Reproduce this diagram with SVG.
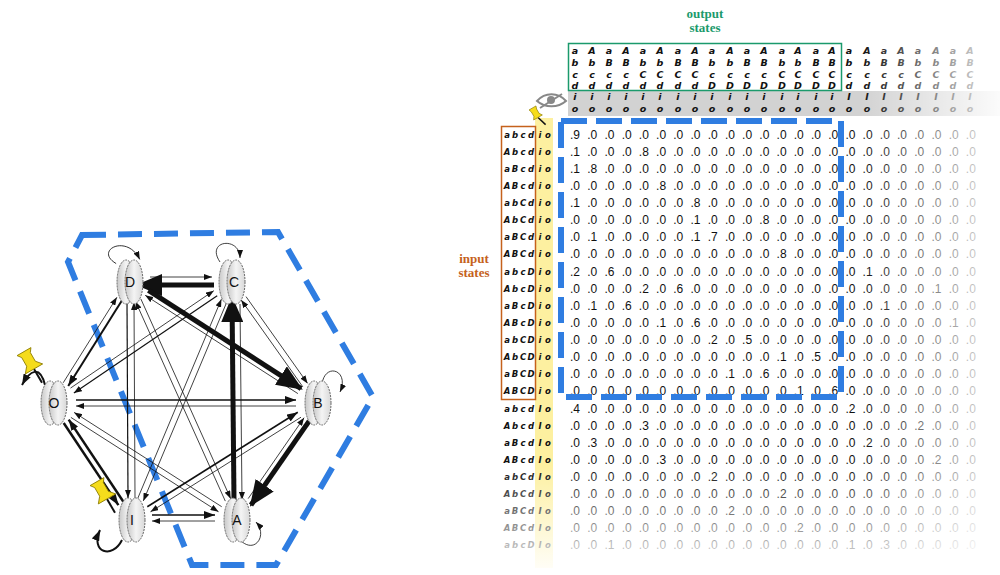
<svg xmlns="http://www.w3.org/2000/svg" width="1000" height="575" viewBox="0 0 1000 575">
<style>
.val{font-family:"Liberation Sans",Arial,sans-serif;font-size:12px;word-spacing:3.87px;fill:#111}
.hd{font-family:"DejaVu Sans",sans-serif;font-style:italic;font-weight:bold;font-size:9.5px;fill:#111;text-anchor:middle}
.rl{font-family:"DejaVu Sans",sans-serif;font-style:italic;font-weight:bold;font-size:8.5px;fill:#111;text-anchor:middle}
.lbl{font-family:"Liberation Serif",serif;font-weight:bold;font-size:13px;text-anchor:middle}
.e{fill:none;stroke:#111}
.t{stroke-width:0.8;marker-end:url(#mt)}
.m{stroke-width:2;marker-end:url(#mm)}
.k{stroke-width:5;marker-end:url(#mk)}
.blue{fill:none;stroke:#2f7de1;stroke-width:6}
.nd ellipse{fill:url(#ng);stroke:#666;stroke-width:1;stroke-dasharray:2 1}
.nl{font-family:"Liberation Sans",Arial,sans-serif;font-size:14px;text-anchor:middle;fill:#111}
</style>
<defs>
<marker id="mt" markerUnits="userSpaceOnUse" markerWidth="8" markerHeight="6" refX="8" refY="3" orient="auto"><path d="M0,0 L8,3 L0,6z" fill="#111"/></marker>
<marker id="mm" markerUnits="userSpaceOnUse" markerWidth="11" markerHeight="8" refX="11" refY="4" orient="auto"><path d="M0,0 L11,4 L0,8z" fill="#111"/></marker>
<marker id="mk" markerUnits="userSpaceOnUse" markerWidth="26" markerHeight="22" refX="24" refY="11" orient="auto"><path d="M0,0 L26,11 L0,22z" fill="#111"/></marker>
<linearGradient id="ng" x1="0" x2="1"><stop offset="0" stop-color="#c8c8c8"/><stop offset="0.5" stop-color="#f4f4f4"/><stop offset="1" stop-color="#d8d8d8"/></linearGradient>
<linearGradient id="fr" x1="0" x2="1"><stop offset="0" stop-color="#fff" stop-opacity="0"/><stop offset="1" stop-color="#fff" stop-opacity="0.92"/></linearGradient>
<linearGradient id="fb" x1="0" x2="0" y1="0" y2="1"><stop offset="0" stop-color="#fff" stop-opacity="0"/><stop offset="1" stop-color="#fff" stop-opacity="0.97"/></linearGradient>
</defs>
<rect width="1000" height="575" fill="#fff"/>

<!-- graph -->
<polygon class="blue" stroke-dasharray="24 12" points="82,235 278,232 373,397 276,565 192,565 68,262"/>
<g id="connectors">
<line class="e t" x1="150" y1="277" x2="212" y2="277"/>
<line class="e k" x1="214" y1="285" x2="138" y2="285"/>
<line class="e k" x1="148.4" y1="290.3" x2="301.1" y2="388.6"/>
<line class="e t" x1="297.9" y1="393.6" x2="145.2" y2="295.3"/>
<line class="e t" x1="140.9" y1="299" x2="230.7" y2="498.7"/>
<line class="e t" x1="225.3" y1="501.1" x2="135.5" y2="301.4"/>
<line class="e t" x1="127" y1="302" x2="128" y2="498" style="stroke-width:1.2"/>
<line class="e t" x1="135" y1="498" x2="134" y2="302"/>
<line class="e m" x1="121.9" y1="300.5" x2="68.2" y2="386"/>
<line class="e t" x1="63.2" y1="382.8" x2="116.9" y2="297.3"/>
<line class="e t" x1="246" y1="296.6" x2="307.6" y2="383.4"/>
<line class="e t" x1="302.8" y1="386.8" x2="241.2" y2="300"/>
<line class="e k" x1="234" y1="500" x2="232" y2="298"/>
<line class="e t" x1="240" y1="304" x2="242" y2="500"/>
<line class="e t" x1="227" y1="301.6" x2="143.3" y2="500.9"/>
<line class="e t" x1="137.7" y1="498.5" x2="221.4" y2="299.2"/>
<line class="e t" x1="217.2" y1="295.7" x2="73.9" y2="393.1" style="stroke-width:1.2"/>
<line class="e t" x1="70.5" y1="388.1" x2="213.8" y2="290.7"/>
<line class="e k" x1="309.1" y1="421.1" x2="251" y2="505"/>
<line class="e t" x1="248.2" y1="498.6" x2="304.1" y2="417.7"/>
<line class="e m" x1="147.3" y1="506.8" x2="297.8" y2="412.2" style="stroke-width:1.6"/>
<line class="e t" x1="301" y1="417.2" x2="150.5" y2="511.8"/>
<line class="e m" x1="76" y1="400" x2="296" y2="400" style="stroke-width:1.3"/>
<line class="e t" x1="296" y1="406" x2="76" y2="406"/>
<line class="e m" x1="152" y1="515" x2="215" y2="515" style="stroke-width:1.3"/>
<line class="e t" x1="215" y1="521" x2="152" y2="521"/>
<line class="e t" x1="221.7" y1="506.7" x2="74.1" y2="412.4"/>
<line class="e t" x1="70.9" y1="417.4" x2="218.5" y2="511.7"/>
<line class="e m" x1="123.4" y1="501.7" x2="68.7" y2="419.6" style="stroke-width:2.5"/>
<line class="e m" x1="63.7" y1="423" x2="118.4" y2="505.1" style="stroke-width:2.5"/>
<path class="e t" d="M116,262 C96,245 132,234 140,262" transform="rotate(-10 125 262)" style="marker-end:url(#mt)"/>
<path class="e t" d="M220,262 C205,240 240,236 240,258"/>
<path class="e t" d="M322,384 C325,362 350,370 340,392"/>
<path class="e t" d="M240,540 C255,555 268,535 256,522"/>
<path class="e m" d="M122,540 C112,560 90,552 100,530" style="stroke-width:2"/>
<path class="e m" d="M45,385 C40,365 30,370 22,385" style="stroke-width:2"/>
</g>
<g id="node-D" class="nd"><ellipse cx="126" cy="282" rx="9" ry="22"/><ellipse cx="134" cy="282" rx="9" ry="22"/><text class="nl" x="130" y="287">D</text></g>
<g id="node-C" class="nd"><ellipse cx="228" cy="282" rx="9" ry="22"/><ellipse cx="236" cy="282" rx="9" ry="22"/><text class="nl" x="234" y="287">C</text></g>
<g id="node-B" class="nd"><ellipse cx="314" cy="403" rx="9" ry="22"/><ellipse cx="322" cy="403" rx="9" ry="22"/><text class="nl" x="318" y="408">B</text></g>
<g id="node-A" class="nd"><ellipse cx="233" cy="520" rx="9" ry="22"/><ellipse cx="241" cy="520" rx="9" ry="22"/><text class="nl" x="237" y="525">A</text></g>
<g id="node-I" class="nd"><ellipse cx="128" cy="520" rx="9" ry="22"/><ellipse cx="136" cy="520" rx="9" ry="22"/><text class="nl" x="132" y="525">I</text></g>
<g id="node-O" class="nd"><ellipse cx="50" cy="403" rx="9" ry="22"/><ellipse cx="58" cy="403" rx="9" ry="22"/><text class="nl" x="54" y="408">O</text></g>
<g id="pin-O" transform="translate(30,362) rotate(-30)"><line x1="0" y1="8" x2="0" y2="24" stroke="#111" stroke-width="2"/><path d="M-8,-12 L8,-12 L5,-8 L5,2 L10,8 L-10,8 L-5,2 L-5,-8z" fill="#f5dc1c" stroke="#8a7a00" stroke-width="0.8"/></g>
<g id="pin-I" transform="translate(103,492) rotate(-30)"><line x1="0" y1="8" x2="0" y2="24" stroke="#111" stroke-width="2"/><path d="M-8,-12 L8,-12 L5,-8 L5,2 L10,8 L-10,8 L-5,2 L-5,-8z" fill="#f5dc1c" stroke="#8a7a00" stroke-width="0.8"/></g>

<!-- matrix -->
<text class="lbl" fill="#1b9a6c" x="705" y="18">output</text>
<text class="lbl" fill="#1b9a6c" x="705" y="32">states</text>
<text class="lbl" fill="#c5621c" x="474" y="263">input</text>
<text class="lbl" fill="#c5621c" x="474" y="277">states</text>
<rect x="568" y="91" width="432" height="25" fill="#d2d2d2"/>
<rect x="535" y="118" width="18" height="450" fill="#fdf0a0"/>
<rect x="568.5" y="43.5" width="273" height="47" fill="none" stroke="#1b9a6c" stroke-width="1.5"/>
<rect x="501.5" y="126.5" width="34" height="273" fill="none" stroke="#c5621c" stroke-width="1.5"/>
<g id="eye" fill="#888"><path d="M537,101 C545,92 558,92 566,101 C558,108 545,108 537,101z" fill="none" stroke="#888" stroke-width="2"/><circle cx="551" cy="100" r="4"/><line x1="540" y1="108" x2="562" y2="94" stroke="#888" stroke-width="2"/></g>
<g id="pin-m" transform="translate(536,114) rotate(-30)"><line x1="0" y1="4" x2="3" y2="14" stroke="#111" stroke-width="1.5"/><path d="M-4,-7 L4,-7 L3,-4 L3,1 L5,4 L-5,4 L-3,1 L-3,-4z" fill="#f5dc1c" stroke="#8a7a00" stroke-width="0.6"/></g>
<g id="header">
<text class="hd" y="54" x="575 592 609 626 643 660 678 695 712 730 747 764 782 798 816 832 849 867 884 901 918 936 953 970">aAaAaAaAaAaAaAaAaAaAaAaA</text>
<text class="hd" y="66" x="575 592 609 626 643 660 678 695 712 730 747 764 782 798 816 832 849 867 884 901 918 936 953 970">bbBBbbBBbbBBbbBBbbBBbbBB</text>
<text class="hd" y="78" x="575 592 609 626 643 660 678 695 712 730 747 764 782 798 816 832 849 867 884 901 918 936 953 970">ccccCCCCccccCCCCccccCCCC</text>
<text class="hd" y="89" x="575 592 609 626 643 660 678 695 712 730 747 764 782 798 816 832 849 867 884 901 918 936 953 970">ddddddddDDDDDDDDdddddddd</text>
<text class="hd" y="100" x="575 592 609 626 643 660 678 695 712 730 747 764 782 798 816 832 849 867 884 901 918 936 953 970">iiiiiiiiiiiiiiiiIIIIIIII</text>
<text class="hd" y="112" x="575 592 609 626 643 660 678 695 712 730 747 764 782 798 816 832 849 867 884 901 918 936 953 970">oooooooooooooooooooooooo</text>
</g>
<g id="rowlabels">
<text class="rl" y="138" x="507 515 523 531 540 548">abcdio</text>
<text class="rl" y="155" x="507 515 523 531 540 548">Abcdio</text>
<text class="rl" y="172" x="507 515 523 531 540 548">aBcdio</text>
<text class="rl" y="189" x="507 515 523 531 540 548">ABcdio</text>
<text class="rl" y="206" x="507 515 523 531 540 548">abCdio</text>
<text class="rl" y="223" x="507 515 523 531 540 548">AbCdio</text>
<text class="rl" y="240" x="507 515 523 531 540 548">aBCdio</text>
<text class="rl" y="257" x="507 515 523 531 540 548">ABCdio</text>
<text class="rl" y="275" x="507 515 523 531 540 548">abcDio</text>
<text class="rl" y="292" x="507 515 523 531 540 548">AbcDio</text>
<text class="rl" y="309" x="507 515 523 531 540 548">aBcDio</text>
<text class="rl" y="326" x="507 515 523 531 540 548">ABcDio</text>
<text class="rl" y="343" x="507 515 523 531 540 548">abCDio</text>
<text class="rl" y="360" x="507 515 523 531 540 548">AbCDio</text>
<text class="rl" y="377" x="507 515 523 531 540 548">aBCDio</text>
<text class="rl" y="394" x="507 515 523 531 540 548">ABCDio</text>
<text class="rl" y="412" x="507 515 523 531 540 548">abcdIo</text>
<text class="rl" y="429" x="507 515 523 531 540 548">AbcdIo</text>
<text class="rl" y="446" x="507 515 523 531 540 548">aBcdIo</text>
<text class="rl" y="463" x="507 515 523 531 540 548">ABcdIo</text>
<text class="rl" y="480" x="507 515 523 531 540 548">abCdIo</text>
<text class="rl" y="497" x="507 515 523 531 540 548">AbCdIo</text>
<text class="rl" y="514" x="507 515 523 531 540 548">aBCdIo</text>
<text class="rl" y="531" x="507 515 523 531 540 548">ABCdIo</text>
<text class="rl" y="548" x="507 515 523 531 540 548">abcDIo</text>
</g>
<g id="values">
<text class="val" x="570" y="139">.9 .0 .0 .0 .0 .0 .0 .0 .0 .0 .0 .0 .0 .0 .0 .0 .0 .0 .0 .0 .0 .0 .0 .0</text>
<text class="val" x="570" y="156">.1 .0 .0 .0 .8 .0 .0 .0 .0 .0 .0 .0 .0 .0 .0 .0 .0 .0 .0 .0 .0 .0 .0 .0</text>
<text class="val" x="570" y="173">.1 .8 .0 .0 .0 .0 .0 .0 .0 .0 .0 .0 .0 .0 .0 .0 .0 .0 .0 .0 .0 .0 .0 .0</text>
<text class="val" x="570" y="190">.0 .0 .0 .0 .0 .8 .0 .0 .0 .0 .0 .0 .0 .0 .0 .0 .0 .0 .0 .0 .0 .0 .0 .0</text>
<text class="val" x="570" y="207">.1 .0 .0 .0 .0 .0 .0 .8 .0 .0 .0 .0 .0 .0 .0 .0 .0 .0 .0 .0 .0 .0 .0 .0</text>
<text class="val" x="570" y="224">.0 .0 .0 .0 .0 .0 .0 .1 .0 .0 .0 .8 .0 .0 .0 .0 .0 .0 .0 .0 .0 .0 .0 .0</text>
<text class="val" x="570" y="241">.0 .1 .0 .0 .0 .0 .0 .1 .7 .0 .0 .0 .0 .0 .0 .0 .0 .0 .0 .0 .0 .0 .0 .0</text>
<text class="val" x="570" y="258">.0 .0 .0 .0 .0 .0 .0 .0 .0 .0 .0 .0 .8 .0 .0 .0 .0 .0 .0 .0 .0 .0 .0 .0</text>
<text class="val" x="570" y="276">.2 .0 .6 .0 .0 .0 .0 .0 .0 .0 .0 .0 .0 .0 .0 .0 .0 .1 .0 .0 .0 .0 .0 .0</text>
<text class="val" x="570" y="293">.0 .0 .0 .0 .2 .0 .6 .0 .0 .0 .0 .0 .0 .0 .0 .0 .0 .0 .0 .0 .0 .1 .0 .0</text>
<text class="val" x="570" y="310">.0 .1 .0 .6 .0 .0 .0 .0 .0 .0 .0 .0 .0 .0 .0 .0 .0 .0 .1 .0 .0 .0 .0 .0</text>
<text class="val" x="570" y="327">.0 .0 .0 .0 .0 .1 .0 .6 .0 .0 .0 .0 .0 .0 .0 .0 .0 .0 .0 .0 .0 .0 .1 .0</text>
<text class="val" x="570" y="344">.0 .0 .0 .0 .0 .0 .0 .0 .2 .0 .5 .0 .0 .0 .0 .0 .0 .0 .0 .0 .0 .0 .0 .0</text>
<text class="val" x="570" y="361">.0 .0 .0 .0 .0 .0 .0 .0 .0 .0 .0 .0 .1 .0 .5 .0 .0 .0 .0 .0 .0 .0 .0 .0</text>
<text class="val" x="570" y="378">.0 .0 .0 .0 .0 .0 .0 .0 .0 .1 .0 .6 .0 .0 .0 .0 .0 .0 .0 .0 .0 .0 .0 .0</text>
<text class="val" x="570" y="395">.0 .0 .0 .0 .0 .0 .0 .0 .0 .0 .0 .0 .0 .1 .0 .6 .0 .0 .0 .0 .0 .0 .0 .0</text>
<text class="val" x="570" y="413">.4 .0 .0 .0 .0 .0 .0 .0 .0 .0 .0 .0 .0 .0 .0 .0 .2 .0 .0 .0 .0 .0 .0 .0</text>
<text class="val" x="570" y="430">.0 .0 .0 .0 .3 .0 .0 .0 .0 .0 .0 .0 .0 .0 .0 .0 .0 .0 .0 .0 .2 .0 .0 .0</text>
<text class="val" x="570" y="447">.0 .3 .0 .0 .0 .0 .0 .0 .0 .0 .0 .0 .0 .0 .0 .0 .0 .2 .0 .0 .0 .0 .0 .0</text>
<text class="val" x="570" y="464">.0 .0 .0 .0 .0 .3 .0 .0 .0 .0 .0 .0 .0 .0 .0 .0 .0 .0 .0 .0 .0 .2 .0 .0</text>
<text class="val" x="570" y="481">.0 .0 .0 .0 .0 .0 .0 .0 .2 .0 .0 .0 .0 .0 .0 .0 .0 .0 .0 .0 .0 .0 .0 .0</text>
<text class="val" x="570" y="498">.0 .0 .0 .0 .0 .0 .0 .0 .0 .0 .0 .0 .2 .0 .0 .0 .0 .0 .0 .0 .0 .0 .0 .0</text>
<text class="val" x="570" y="515">.0 .0 .0 .0 .0 .0 .0 .0 .0 .2 .0 .0 .0 .0 .0 .0 .0 .0 .0 .0 .0 .0 .0 .0</text>
<text class="val" x="570" y="532">.0 .0 .0 .0 .0 .0 .0 .0 .0 .0 .0 .0 .0 .2 .0 .0 .0 .0 .0 .0 .0 .0 .0 .0</text>
<text class="val" x="570" y="549">.0 .0 .1 .0 .0 .0 .0 .0 .0 .0 .0 .0 .0 .0 .0 .0 .1 .0 .3 .0 .0 .0 .0 .0</text>
</g>
<rect x="860" y="40" width="140" height="535" fill="url(#fr)"/>
<rect x="495" y="465" width="505" height="110" fill="url(#fb)"/>
<rect class="blue" x="561" y="121" width="280" height="276" stroke-dasharray="26 9"/>
</svg>
